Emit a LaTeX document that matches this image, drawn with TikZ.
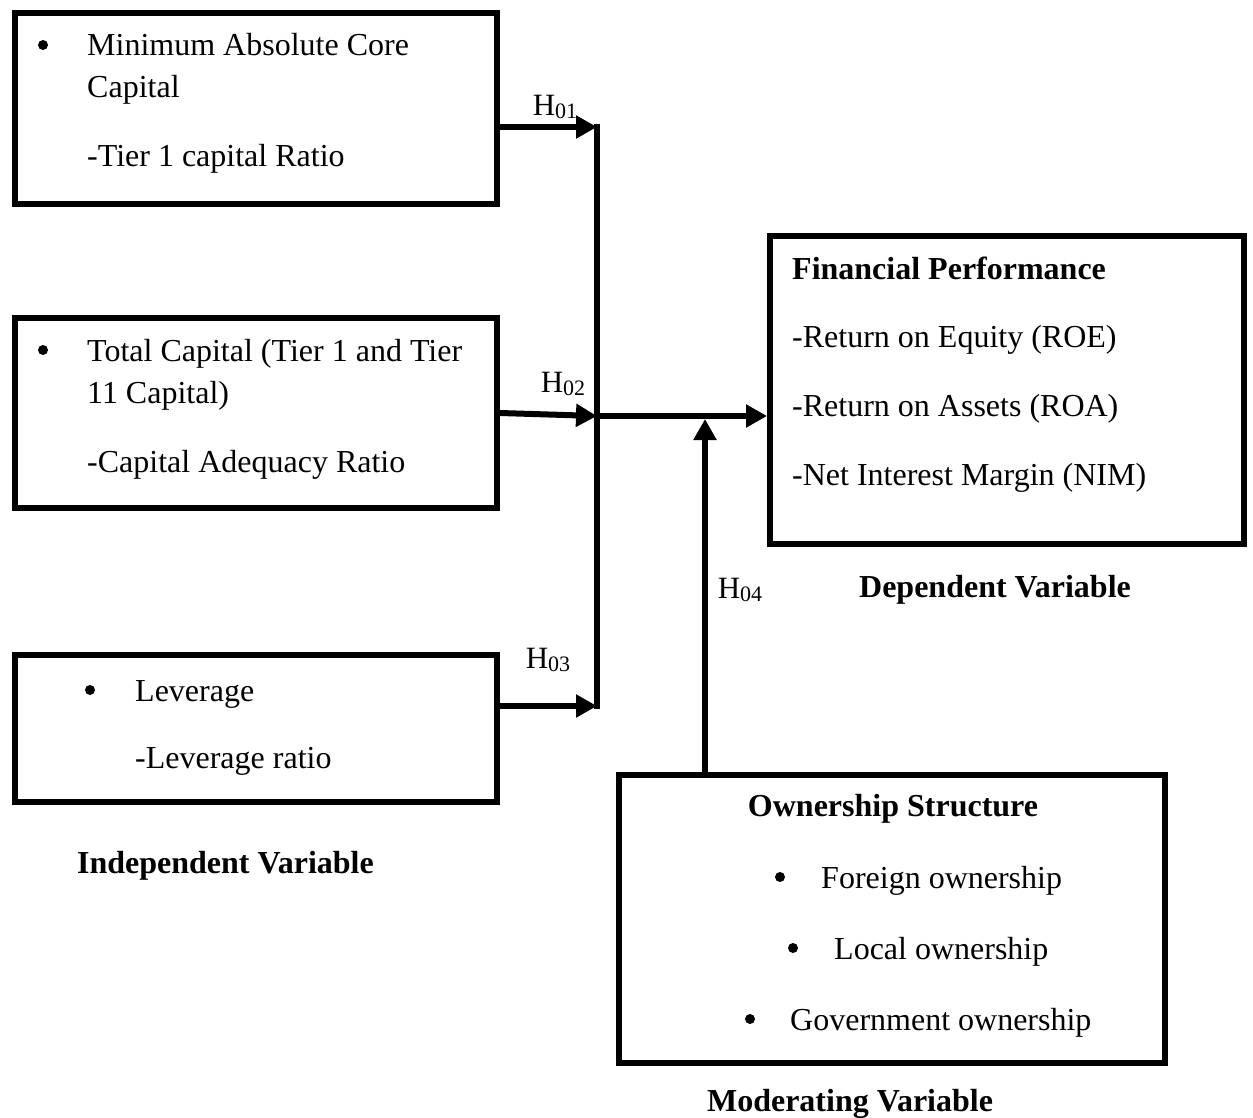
\documentclass[tikz,border=0pt]{standalone}
\usepackage{fontspec}
\setmainfont{Liberation Serif}
\usetikzlibrary{arrows.meta}
\newcommand{\hyp}[1]{H{\fontsize{22}{24}\selectfont\raisebox{-3pt}{#1}}}
\begin{document}
\begin{tikzpicture}[x=1pt,y=-1pt,
  box/.style={draw,line width=6pt,rectangle,inner sep=0pt},
  txt/.style={anchor=base west,inner sep=0pt,font=\fontsize{32}{38}\selectfont},
  btxt/.style={anchor=base,inner sep=0pt,font=\fontsize{32}{38}\selectfont\bfseries},
  blt/.style={circle,fill,inner sep=0pt,minimum size=10pt},
  hlab/.style={anchor=base,inner sep=0pt,font=\fontsize{31}{36}\selectfont},
  conn/.style={line width=6pt},
  arr/.style={line width=6pt,-{Triangle[length=21pt,width=22pt]}}]
\useasboundingbox (0,0) rectangle (1253,1118);
% boxes
\node[box,minimum width=482pt,minimum height=191pt] (b1) at (256,108.5) {};
\node[box,minimum width=482pt,minimum height=190pt] (b2) at (256,413) {};
\node[box,minimum width=482pt,minimum height=147pt] (b3) at (256,728.5) {};
\node[box,minimum width=474pt,minimum height=308pt] (fp) at (1007,390) {};
\node[box,minimum width=546pt,minimum height=288pt] (ms) at (892,919) {};
% box 1 text
\node[blt] (b1d) at (43,45) {};
\node[txt] (b1a) at (87,56) {Minimum Absolute Core};
\node[txt] (b1b) at (87,98) {Capital};
\node[txt] (b1c) at (87,167) {-Tier 1 capital Ratio};
% box 2 text
\node[blt] (b2d) at (43,350) {};
\node[txt] (b2a) at (87,361) {Total Capital (Tier 1 and Tier};
\node[txt] (b2b) at (87,403) {11 Capital)};
\node[txt] (b2c) at (87,472) {-Capital Adequacy Ratio};
% box 3 text
\node[blt] (b3d) at (90,690) {};
\node[txt] (b3a) at (135,701) {Leverage};
\node[txt] (b3b) at (135,768) {-Leverage ratio};
% dependent box text
\node[txt,font=\fontsize{32}{38}\selectfont\bfseries] (fpa) at (792,279) {Financial Performance};
\node[txt] (fpb) at (792,347) {-Return on Equity (ROE)};
\node[txt] (fpc) at (792,416) {-Return on Assets (ROA)};
\node[txt] (fpd) at (792,485) {-Net Interest Margin (NIM)};
% moderating box text
\node[btxt] (msa) at (893,816) {Ownership Structure};
\node[blt] (msd1) at (780,877) {};
\node[txt] (msb) at (821,888) {Foreign ownership};
\node[blt] (msd2) at (793,948) {};
\node[txt] (msc) at (834,959) {Local ownership};
\node[blt] (msd3) at (750,1019) {};
\node[txt] (msdd) at (790,1030) {Government ownership};
% captions
\node[btxt] (cap1) at (225.5,873) {Independent Variable};
\node[btxt] (cap2) at (995,597) {Dependent Variable};
\node[btxt] (cap3) at (850,1111) {Moderating Variable};
% connectors
\coordinate (j1) at (597,127);
\coordinate (j2) at (597,416);
\coordinate (j3) at (597,706);
\coordinate (mt) at (705,419);
\draw[conn,line cap=rect] (j1) -- (j3);
\draw[arr] (b1.east |- j1) -- (j1);
\draw[arr] (b2.east) -- (j2);
\draw[arr] (b3.east |- j3) -- (j3);
\draw[arr] (j2) -- (fp.west |- j2);
\draw[arr] (ms.north -| mt) -- (mt);
% labels
\node[hlab] (h1) at (555,116) {\hyp{01}};
\node[hlab] (h2) at (563,392) {\hyp{02}};
\node[hlab] (h3) at (548,668) {\hyp{03}};
\node[hlab] (h4) at (740,598) {\hyp{04}};
\end{tikzpicture}
\end{document}
